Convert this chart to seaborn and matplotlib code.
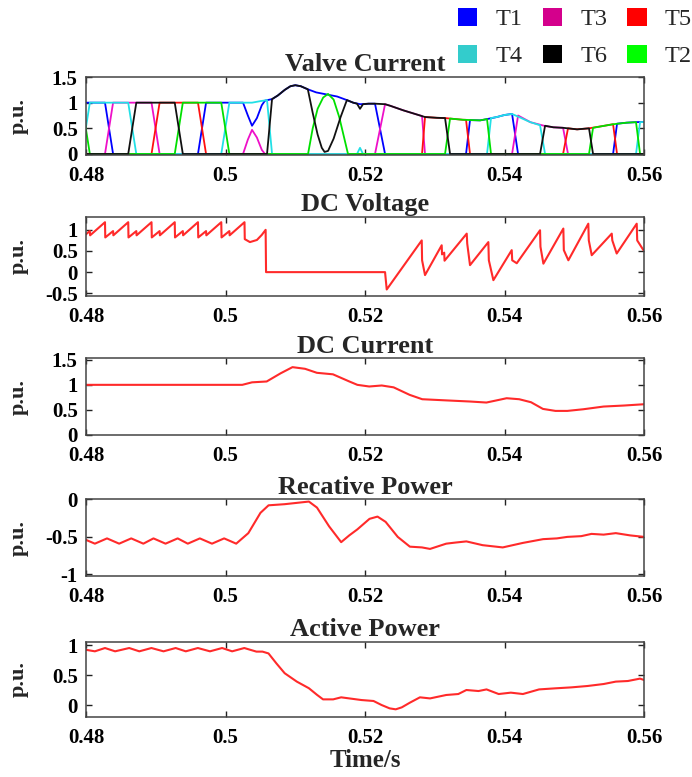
import matplotlib
matplotlib.use("Agg")
import numpy as np
import pandas as pd
import matplotlib.pyplot as plt
import seaborn as sns
from matplotlib.patches import Patch
from matplotlib.ticker import FuncFormatter

# ---------------- data (time in s, values in p.u.) ----------------
valve_names = ["T1", "T3", "T5", "T4", "T6", "T2"]

t1_time = [0.4790, 0.48272, 0.48388, 0.49605, 0.49721, 0.50251, 0.5032, 0.5038, 0.5045, 0.5052,
           0.50566, 0.5067, 0.5075, 0.5085, 0.5093, 0.5100, 0.5108, 0.5118, 0.5130, 0.5145,
           0.5160, 0.5174, 0.5183, 0.5193, 0.5205, 0.52143, 0.52287, 0.53448, 0.53505, 0.5365,
           0.5375, 0.5389, 0.5400, 0.54108, 0.54194, 0.55556, 0.55613, 0.5575, 0.5588, 0.5610]
t1_curr = [1.0, 1.0, 0.0, 0.0, 1.0, 1.0, 0.75, 0.55, 0.70, 0.95,
           1.04, 1.07, 1.14, 1.25, 1.32, 1.34, 1.32, 1.26, 1.20, 1.16,
           1.12, 1.05, 1.00, 0.97, 0.98, 0.98, 0.0, 0.0, 0.66, 0.655,
           0.68, 0.72, 0.76, 0.78, 0.0, 0.0, 0.59, 0.61, 0.62, 0.63]

t3_time = [0.4790, 0.48272, 0.48388, 0.48939, 0.49055, 0.50251, 0.5032, 0.5038, 0.5045, 0.5052,
           0.50566, 0.52143, 0.52287, 0.5236, 0.5255, 0.52789, 0.52817, 0.52860, 0.54108, 0.54194,
           0.5437, 0.5458, 0.5470, 0.54839, 0.54910, 0.5610]
t3_curr = [0.0, 0.0, 1.0, 1.0, 0.0, 0.0, 0.28, 0.47, 0.32, 0.08,
           0.0, 0.0, 0.97, 0.94, 0.85, 0.75, 0.74, 0.0, 0.0, 0.75,
           0.62, 0.545, 0.52, 0.51, 0.0, 0.0]

t5_time = [0.4790, 0.48939, 0.49055, 0.49605, 0.49721, 0.52817, 0.52860, 0.5303, 0.5315, 0.5322,
           0.5340, 0.53448, 0.53505, 0.54839, 0.54910, 0.5504, 0.5521, 0.5541, 0.55556, 0.55613,
           0.5610]
t5_curr = [0.0, 0.0, 1.0, 1.0, 0.0, 0.0, 0.72, 0.705, 0.70, 0.69,
           0.667, 0.665, 0.0, 0.0, 0.50, 0.48, 0.50, 0.545, 0.58, 0.0,
           0.0]

t4_time = [0.4790, 0.47939, 0.48055, 0.48605, 0.48721, 0.49939, 0.50055, 0.5038, 0.5050, 0.50595,
           0.50667, 0.51885, 0.51928, 0.51971, 0.53749, 0.53806, 0.5389, 0.5400, 0.54108, 0.5419,
           0.5437, 0.54509, 0.54581, 0.55885, 0.55943, 0.5610]
t4_curr = [0.0, 0.0, 1.0, 1.0, 0.0, 0.0, 1.0, 1.0, 1.03, 1.05,
           0.0, 0.0, 0.12, 0.0, 0.0, 0.70, 0.72, 0.76, 0.78, 0.73,
           0.62, 0.56, 0.0, 0.0, 0.62, 0.63]

t6_time = [0.4790, 0.48605, 0.48721, 0.49272, 0.49388, 0.50595, 0.50667, 0.5075, 0.5085, 0.5093,
           0.5100, 0.5108, 0.5118, 0.5125, 0.5132, 0.5138, 0.5142, 0.5147, 0.5155, 0.5165,
           0.5174, 0.5183, 0.51885, 0.51928, 0.51971, 0.5205, 0.52143, 0.52287, 0.5236, 0.5255,
           0.52789, 0.5286, 0.5303, 0.53147, 0.53219, 0.54509, 0.54581, 0.5470, 0.54839, 0.5504,
           0.55211, 0.55269, 0.5610]
t6_curr = [0.0, 0.0, 1.0, 1.0, 0.0, 0.0, 1.07, 1.14, 1.25, 1.32,
           1.34, 1.32, 1.26, 0.80, 0.38, 0.12, 0.04, 0.06, 0.30, 0.72,
           1.05, 1.00, 0.98, 0.88, 0.97, 0.98, 0.98, 0.97, 0.94, 0.85,
           0.75, 0.72, 0.705, 0.70, 0.0, 0.0, 0.55, 0.52, 0.51, 0.48,
           0.50, 0.0, 0.0]

t2_time = [0.4790, 0.47939, 0.48055, 0.49272, 0.49388, 0.49939, 0.50055, 0.51183, 0.5125, 0.5132,
           0.5140, 0.5147, 0.5155, 0.5163, 0.5170, 0.51756, 0.53147, 0.53219, 0.5340, 0.5365,
           0.53749, 0.53806, 0.55211, 0.55269, 0.5541, 0.5556, 0.5575, 0.55885, 0.55943, 0.5610]
t2_curr = [1.0, 1.0, 0.0, 0.0, 1.0, 1.0, 0.0, 0.0, 0.50, 0.88,
           1.10, 1.17, 1.06, 0.72, 0.32, 0.0, 0.0, 0.69, 0.667, 0.655,
           0.68, 0.0, 0.0, 0.51, 0.545, 0.58, 0.61, 0.62, 0.0, 0.0]

vdc_time = [0.47939, 0.47943, 0.48055, 0.48059, 0.48272, 0.48276, 0.48388, 0.48392, 0.48605, 0.48609,
            0.48721, 0.48725, 0.48939, 0.48943, 0.49055, 0.49059, 0.49272, 0.49276, 0.49388, 0.49392,
            0.49605, 0.49609, 0.49721, 0.49725, 0.49939, 0.49943, 0.50055, 0.50059, 0.50272, 0.50276,
            0.5035, 0.5045, 0.5052, 0.50575, 0.50581, 0.52287, 0.52311, 0.52813, 0.52818, 0.52860,
            0.53099, 0.53104, 0.53135, 0.53140, 0.53458, 0.53465, 0.53505, 0.53768, 0.53775, 0.53840,
            0.54103, 0.54110, 0.54175, 0.54509, 0.54515, 0.54557, 0.54843, 0.54850, 0.54915, 0.55201,
            0.55208, 0.55250, 0.55537, 0.55545, 0.55608, 0.55895, 0.55902, 0.55991, 0.5605]
vdc_val = [1.18, 0.82, 0.97, 0.87, 1.18, 0.82, 0.97, 0.87, 1.18, 0.82,
           0.97, 0.87, 1.18, 0.82, 0.97, 0.87, 1.18, 0.82, 0.97, 0.87,
           1.18, 0.82, 0.97, 0.87, 1.18, 0.82, 0.97, 0.87, 1.18, 0.78,
           0.71, 0.76, 0.88, 1.00, 0.0, 0.0, -0.41, 0.75, 0.28, -0.07,
           0.635, 0.42, 0.46, 0.27, 0.91, 0.675, 0.165, 0.71, 0.28, -0.19,
           0.52, 0.28, 0.21, 0.99, 0.60, 0.20, 1.03, 0.52, 0.28, 1.145,
           0.75, 0.40, 0.91, 0.75, 0.44, 1.145, 0.75, 0.52, 0.55]

idc_time = [0.4800, 0.4850, 0.4900, 0.4950, 0.5000, 0.5024, 0.5038, 0.5059, 0.5079, 0.5096,
            0.5114, 0.5131, 0.5154, 0.5177, 0.5189, 0.5206, 0.5224, 0.5241, 0.5264, 0.5282,
            0.5316, 0.5351, 0.5374, 0.5392, 0.5403, 0.5421, 0.5438, 0.5455, 0.5473, 0.5490,
            0.5513, 0.5542, 0.5571, 0.5600]
idc_val = [1.0, 1.0, 1.0, 1.0, 1.0, 1.0, 1.05, 1.067, 1.23, 1.353,
           1.32, 1.24, 1.21, 1.07, 1.0, 0.967, 0.987, 0.95, 0.80, 0.713,
           0.69, 0.667, 0.647, 0.70, 0.733, 0.713, 0.653, 0.52, 0.48, 0.48,
           0.513, 0.567, 0.587, 0.613]

q_time = [0.48000, 0.48127, 0.48301, 0.48475, 0.48648, 0.48822, 0.48967, 0.49140, 0.49314, 0.49459,
          0.49632, 0.49806, 0.49980, 0.50153, 0.50327, 0.50501, 0.50617, 0.50848, 0.51195, 0.51311,
          0.51485, 0.51658, 0.51774, 0.51890, 0.52064, 0.52179, 0.52295, 0.52469, 0.52643, 0.52816,
          0.52932, 0.53164, 0.53300, 0.53453, 0.53685, 0.53974, 0.54263, 0.54553, 0.54750, 0.54900,
          0.55100, 0.55247, 0.55420, 0.55595, 0.55800, 0.56000]
q_val = [-0.54, -0.59, -0.52, -0.59, -0.52, -0.59, -0.52, -0.59, -0.52, -0.59,
         -0.52, -0.59, -0.52, -0.59, -0.45, -0.18, -0.08, -0.065, -0.03, -0.11,
         -0.36, -0.57, -0.48, -0.40, -0.26, -0.23, -0.30, -0.50, -0.63, -0.64,
         -0.66, -0.59, -0.575, -0.56, -0.61, -0.64, -0.58, -0.53, -0.52, -0.50,
         -0.49, -0.46, -0.47, -0.45, -0.48, -0.50]

p_time = [0.48000, 0.48127, 0.48272, 0.48417, 0.48619, 0.48764, 0.48938, 0.49111, 0.49285, 0.49430,
          0.49603, 0.49777, 0.49951, 0.50095, 0.50269, 0.50443, 0.50530, 0.50616, 0.50732, 0.50848,
          0.51022, 0.51195, 0.51311, 0.51398, 0.51543, 0.51658, 0.51774, 0.51948, 0.52122, 0.52237,
          0.52353, 0.52440, 0.52527, 0.52643, 0.52787, 0.52932, 0.53164, 0.53337, 0.53453, 0.53627,
          0.53742, 0.53916, 0.54090, 0.54263, 0.54495, 0.54727, 0.54958, 0.55190, 0.55421, 0.55595,
          0.55768, 0.55942, 0.56000]
p_val = [0.92, 0.895, 0.95, 0.895, 0.95, 0.895, 0.95, 0.895, 0.95, 0.895,
         0.95, 0.895, 0.95, 0.895, 0.95, 0.89, 0.89, 0.86, 0.69, 0.53,
         0.39, 0.28, 0.17, 0.094, 0.094, 0.128, 0.11, 0.083, 0.067, 0.0,
         -0.056, -0.072, -0.039, 0.039, 0.128, 0.11, 0.167, 0.183, 0.25, 0.233,
         0.26, 0.183, 0.206, 0.183, 0.26, 0.278, 0.294, 0.317, 0.35, 0.39,
         0.40, 0.44, 0.417]

x_ticks = [0.48, 0.50, 0.52, 0.54, 0.56]
titles = ["Valve Current", "DC Voltage", "DC Current", "Recative Power", "Active Power"]
y_ticks = [[0, 0.5, 1, 1.5], [-0.5, 0, 0.5, 1], [0, 0.5, 1, 1.5], [-1, -0.5, 0], [0, 0.5, 1]]

# ---------------- styling ----------------
sns.set_theme(style="ticks")
plt.rcParams["font.family"] = ["Liberation Serif", "DejaVu Serif"]

valve_colors = {"T1": "#0000FF", "T3": "#EE10C8", "T5": "#FF1010",
                "T4": "#22E0E6", "T6": "#111111", "T2": "#00E000"}
legend_colors = {"T1": "#0000FF", "T3": "#D4008C", "T5": "#FF0000",
                 "T4": "#33CCCC", "T6": "#000000", "T2": "#00FF00"}
red = "#FF2A2A"

fig = plt.figure(figsize=(6.92, 7.77), dpi=100)
L, W = 0.1243, 0.8064
rects = [[L, 0.8005, W, 0.1004],
         [L, 0.6190, W, 0.1021],
         [L, 0.4402, W, 0.0987],
         [L, 0.2587, W, 0.0987],
         [L, 0.0776, W, 0.0965]]
axes = [fig.add_axes(r) for r in rects]

# valve currents
frames = []
for name, tt, ii in [("T1", t1_time, t1_curr), ("T3", t3_time, t3_curr), ("T5", t5_time, t5_curr),
                     ("T4", t4_time, t4_curr), ("T6", t6_time, t6_curr), ("T2", t2_time, t2_curr)]:
    frames.append(pd.DataFrame({"t": tt, "i": ii, "valve": name}))
valves = pd.concat(frames, ignore_index=True)
for name in ["T1", "T3", "T5", "T4", "T2", "T6"]:
    sub = valves[valves["valve"] == name]
    sns.lineplot(data=sub, x="t", y="i", ax=axes[0], color=valve_colors[name],
                 lw=1.3, estimator=None, sort=False, legend=False)

single = [(vdc_time, vdc_val), (idc_time, idc_val), (q_time, q_val), (p_time, p_val)]
for ax, (tt, vv) in zip(axes[1:], single):
    df = pd.DataFrame({"t": tt, "v": vv})
    sns.lineplot(data=df, x="t", y="v", ax=ax, color=red, lw=1.5, estimator=None, sort=False)

ylims = [(-0.02, 1.49), (-0.565, 1.31), (0.0, 1.53), (-1.02, 0.0), (-0.195, 1.055)]
fmt = FuncFormatter(lambda v, p: ("%g" % v))
for k, ax in enumerate(axes):
    ax.set_xlim(0.48, 0.56)
    ax.set_ylim(*ylims[k])
    ax.set_xticks(x_ticks)
    ax.set_yticks(y_ticks[k])
    ax.xaxis.set_major_formatter(fmt)
    ax.yaxis.set_major_formatter(fmt)
    ax.tick_params(direction="in", length=4, width=1, top=True, right=True,
                   labelsize=15, colors="#222222", labelcolor="black")
    ax.tick_params(axis="x", pad=8)
    ax.tick_params(axis="y", pad=6)
    for lab in ax.get_xticklabels() + ax.get_yticklabels():
        lab.set_fontweight("bold")
    for s in ax.spines.values():
        s.set_visible(True)
        s.set_color("#444444")
        s.set_linewidth(1.1)
    ax.set_xlabel("")
    ax.set_ylabel("p.u.", fontsize=16, fontweight="bold")
    ax.yaxis.set_label_coords(-0.103, 0.5)
    ax.set_title(titles[k], fontsize=19, fontweight="bold", pad=4)

axes[-1].set_xlabel("Time/s", fontsize=18, fontweight="bold", labelpad=1)

order = ["T1", "T4", "T3", "T6", "T5", "T2"]
handles = [Patch(facecolor=legend_colors[n], edgecolor="none") for n in order]
fig.legend(handles, order, ncol=3, loc="upper left",
           bbox_to_anchor=(458 / 692, 1 - 8 / 777), frameon=False, fontsize=17.5,
           handlelength=0.8, handleheight=0.75, handletextpad=0.75,
           columnspacing=0.82, labelspacing=0.6, borderpad=0, borderaxespad=0)

fig.savefig("out.png", dpi=100)
